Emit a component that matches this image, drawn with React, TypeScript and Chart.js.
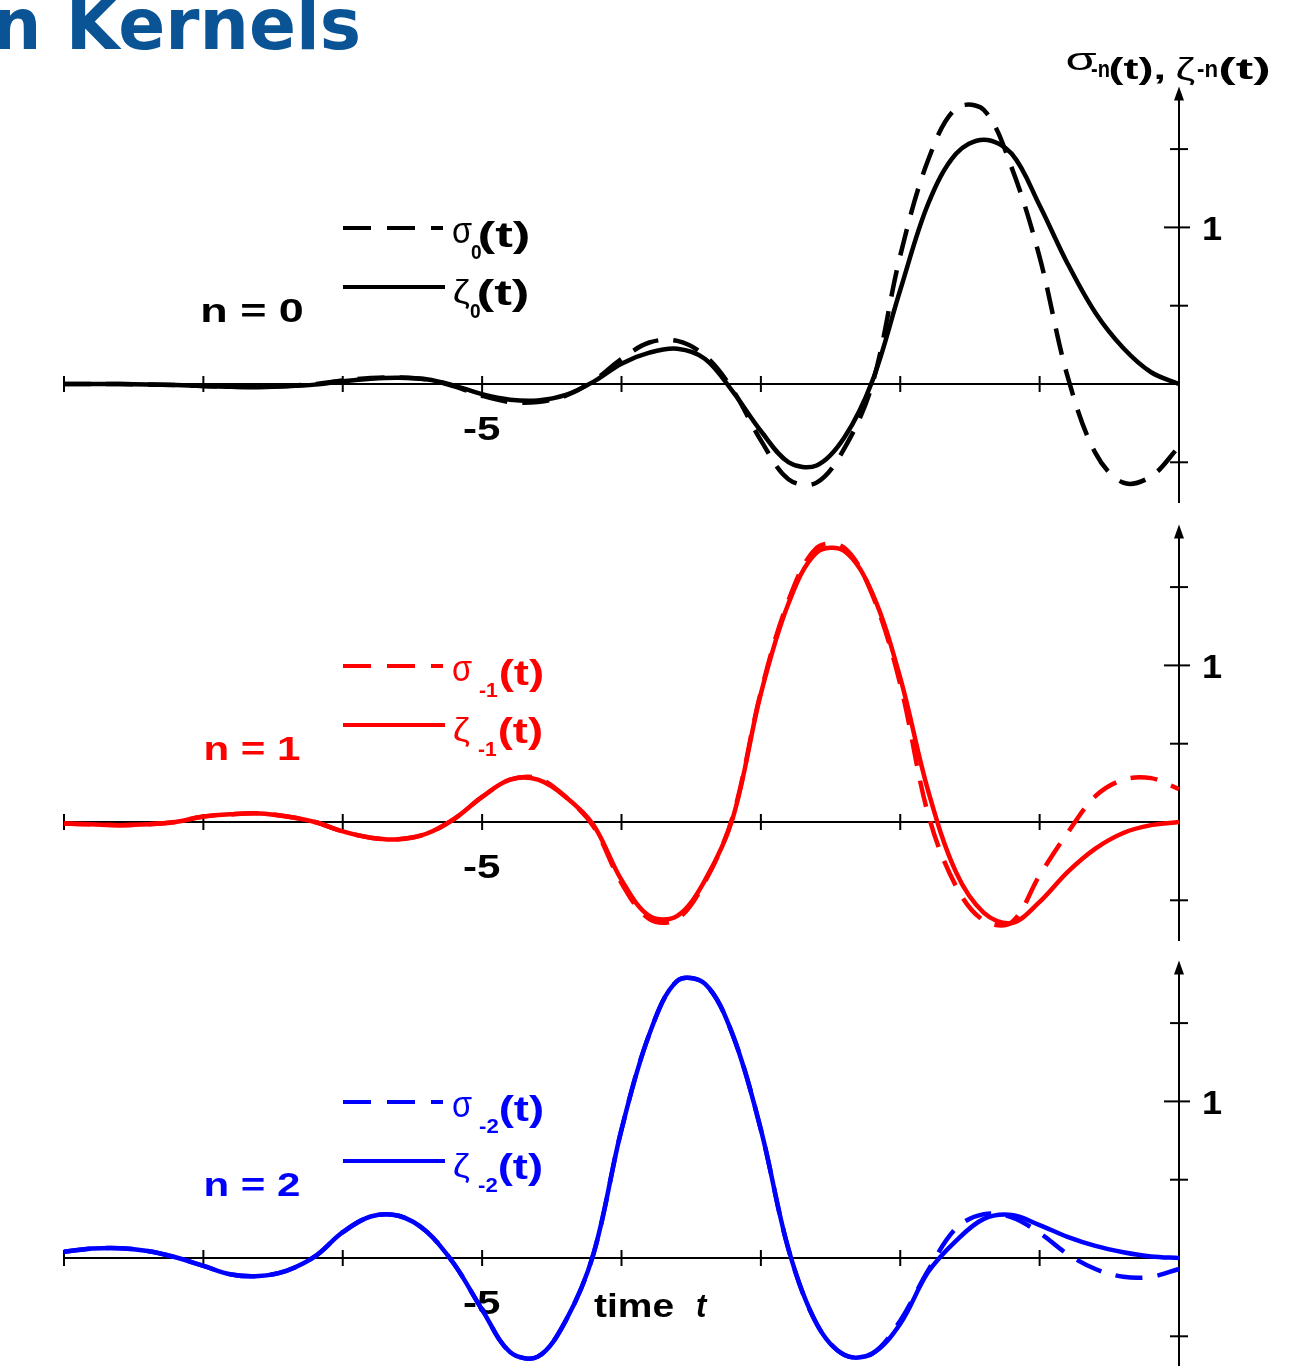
import React, { useEffect, useRef } from "react";
import { Chart, registerables } from "chart.js";

Chart.register(...registerables);

// ---------- data ----------
const T = [-8, -7.8, -7.6, -7.4, -7.2, -7, -6.8, -6.6, -6.4, -6.2, -6, -5.8, -5.6, -5.4, -5.2, -5, -4.8, -4.6, -4.4, -4.2, -4, -3.8, -3.6, -3.4, -3.2, -3, -2.8, -2.6, -2.4, -2.2, -2, -1.8, -1.6, -1.4, -1.2, -1, -0.8, -0.6, -0.4, -0.2, 0];

const sigma0 = [0, 0, 0, -0.003, -0.007, -0.013, -0.018, -0.018, -0.012, 0, 0.022, 0.038, 0.042, 0.03, -0.015, -0.075, -0.115, -0.115, -0.075, 0.02, 0.16, 0.265, 0.275, 0.18, -0.04, -0.36, -0.61, -0.63, -0.41, 0, 0.82, 1.43, 1.76, 1.75, 1.38, 0.81, 0.05, -0.44, -0.63, -0.59, -0.4];
const zeta0 = [0, 0, 0, -0.003, -0.006, -0.012, -0.018, -0.02, -0.015, -0.004, 0.018, 0.034, 0.04, 0.03, -0.01, -0.065, -0.1, -0.105, -0.07, 0.015, 0.13, 0.2, 0.225, 0.16, -0.05, -0.3, -0.5, -0.52, -0.34, 0.02, 0.6, 1.15, 1.47, 1.56, 1.47, 1.14, 0.77, 0.455, 0.23, 0.075, 0];

const sigmaM1 = [-0.01, -0.015, -0.02, -0.015, 0, 0.035, 0.05, 0.055, 0.035, 0, -0.06, -0.1, -0.11, -0.075, 0.02, 0.16, 0.27, 0.28, 0.16, -0.03, -0.39, -0.62, -0.62, -0.38, 0.04, 0.83, 1.42, 1.75, 1.75, 1.45, 0.88, 0.05, -0.41, -0.63, -0.64, -0.34, -0.07, 0.165, 0.27, 0.28, 0.21];
const zetaM1 = [-0.01, -0.015, -0.02, -0.015, 0, 0.035, 0.05, 0.055, 0.035, 0, -0.06, -0.1, -0.11, -0.075, 0.02, 0.16, 0.27, 0.27, 0.16, -0.02, -0.37, -0.6, -0.6, -0.37, 0.03, 0.82, 1.4, 1.72, 1.73, 1.46, 0.92, 0.2, -0.32, -0.58, -0.645, -0.51, -0.32, -0.17, -0.07, -0.02, 0];

const sigmaM2 = [0.04, 0.06, 0.063, 0.045, 0.005, -0.05, -0.105, -0.115, -0.08, 0.01, 0.165, 0.265, 0.27, 0.17, -0.04, -0.33, -0.6, -0.63, -0.4, 0.03, 0.82, 1.43, 1.77, 1.75, 1.42, 0.82, 0.05, -0.42, -0.62, -0.61, -0.4, -0.08, 0.19, 0.28, 0.26, 0.16, 0.025, -0.07, -0.12, -0.12, -0.07];
const zetaM2 = [0.04, 0.06, 0.063, 0.045, 0.005, -0.05, -0.105, -0.115, -0.08, 0.01, 0.165, 0.265, 0.27, 0.17, -0.04, -0.33, -0.6, -0.63, -0.4, 0.03, 0.82, 1.43, 1.77, 1.75, 1.42, 0.82, 0.05, -0.42, -0.62, -0.61, -0.42, -0.09, 0.11, 0.25, 0.275, 0.21, 0.135, 0.077, 0.037, 0.01, 0];

const PANEL_COLORS = ["#000000", "#ff0000", "#0000ff"];
const SUBS = ["0", "-1", "-2"];
const N_LABELS = ["n = 0", "n = 1", "n = 2"];
const X_TICKS = [-8, -7, -6, -5, -4, -3, -2, -1];
const X_LABEL_VALUE = -5;
const Y_TICKS = [-0.5, 0.5, 1, 1.5];
const Y_LABEL_VALUE = 1;
const TITLE = "n Kernels";
const X_TITLE = "time";
const X_TITLE_VAR = "t";

// ---------- layout ----------
const W = 1309;
const H = 1366;
const PX_PER_T = 139.375;
const X0_PX = 64; // pixel of t = -8
const PX_PER_V = 156.6;
const ZERO_PX = [384, 822, 1258];
const X_MIN = -8;
const X_MAX = 0;

const SANS = "'Liberation Sans', Arial, sans-serif";

function fitText(ctx: CanvasRenderingContext2D, text: string, left: number, right: number, baseline: number, font: string, color: string) {
  ctx.save();
  ctx.font = font;
  ctx.textAlign = "left";
  ctx.textBaseline = "alphabetic";
  const m = ctx.measureText(text);
  const inkW = m.actualBoundingBoxLeft + m.actualBoundingBoxRight;
  const sx = inkW > 0 ? (right - left) / inkW : 1;
  ctx.translate(left, baseline);
  ctx.scale(sx, 1);
  ctx.fillStyle = color;
  ctx.fillText(text, m.actualBoundingBoxLeft, 0);
  ctx.restore();
}

function seg(ctx: CanvasRenderingContext2D, x1: number, y1: number, x2: number, y2: number) {
  ctx.beginPath();
  ctx.moveTo(x1, y1);
  ctx.lineTo(x2, y2);
  ctx.stroke();
}

const decorPlugin = {
  id: "decor",
  beforeDatasetsDraw(chart: any) {
    const ctx: CanvasRenderingContext2D = chart.ctx;
    const xs = chart.scales.x;
    const ax = xs.getPixelForValue(0);
    ctx.save();
    // title
    fitText(ctx, TITLE, -3, 358, 49, `bold 71px 'DejaVu Sans', sans-serif`, "#0a5496");
    // y axis title
    fitText(ctx, "\u03c3", 1067, 1097, 70, `32px ${SANS}`, "#000");
    fitText(ctx, "-n", 1091, 1109, 77, `bold 23px ${SANS}`, "#000");
    fitText(ctx, "(t),", 1110, 1164, 79, `bold 30px ${SANS}`, "#000");
    fitText(ctx, "\u03b6", 1177, 1195, 80, `32px ${SANS}`, "#000");
    fitText(ctx, "-n", 1197, 1217, 77, `bold 23px ${SANS}`, "#000");
    fitText(ctx, "(t)", 1220, 1269, 79, `bold 30px ${SANS}`, "#000");

    for (let i = 0; i < 3; i++) {
      const ys = chart.scales["y" + i];
      const z = ys.getPixelForValue(0);
      const col = PANEL_COLORS[i];
      ctx.strokeStyle = "#000";
      ctx.fillStyle = "#000";
      ctx.lineWidth = 2;
      ctx.setLineDash([]);
      // x axis
      seg(ctx, xs.getPixelForValue(X_MIN), z, xs.getPixelForValue(X_MAX), z);
      X_TICKS.forEach((t) => {
        const px = xs.getPixelForValue(t);
        seg(ctx, px, z - 8, px, z + 8);
      });
      // y axis
      const top = ys.getPixelForValue(1.9);
      const bottom = ys.getPixelForValue(i === 2 ? -0.9 : -0.76);
      seg(ctx, ax, bottom, ax, top + 10);
      ctx.beginPath();
      ctx.moveTo(ax, top);
      ctx.lineTo(ax - 5, top + 14);
      ctx.lineTo(ax + 5, top + 14);
      ctx.closePath();
      ctx.fill();
      Y_TICKS.forEach((v) => {
        const py = ys.getPixelForValue(v);
        if (v === Y_LABEL_VALUE) seg(ctx, ax - 15, py, ax + 11, py);
        else seg(ctx, ax - 9, py, ax + 9, py);
      });
      // tick labels
      const y1 = ys.getPixelForValue(Y_LABEL_VALUE);
      fitText(ctx, String(Y_LABEL_VALUE), 1204, 1221, y1 + 13, `bold 34px ${SANS}`, "#000");
      const xl = xs.getPixelForValue(X_LABEL_VALUE);
      fitText(ctx, String(X_LABEL_VALUE), xl - 18, xl + 17, z + 56, `bold 34px ${SANS}`, "#000");

      // legend samples
      ctx.strokeStyle = col;
      ctx.lineWidth = 4;
      ctx.setLineDash([28, 16]);
      seg(ctx, 343, z - 156, 443, z - 156);
      ctx.setLineDash([]);
      seg(ctx, 343, z - 97, 445, z - 97);
      const wide = i > 0;
      const subL = wide ? 479 : 471;
      const subR = wide ? 498 : 481;
      const parL = wide ? 500 : 479;
      const parR = wide ? 542 : 528;
      fitText(ctx, "\u03c3", 453, 472, z - 141, `36px ${SANS}`, col);
      fitText(ctx, SUBS[i], subL, subR, z - 125, `bold 21px ${SANS}`, col);
      fitText(ctx, "(t)", parL, parR, z - 137, `bold 35px ${SANS}`, col);
      fitText(ctx, "\u03b6", 454, 470, z - 81, `34px ${SANS}`, col);
      fitText(ctx, SUBS[i], subL - 1, subR - 1, z - 66, `bold 21px ${SANS}`, col);
      fitText(ctx, "(t)", parL - 1, parR - 1, z - 79, `bold 35px ${SANS}`, col);
      fitText(ctx, N_LABELS[i], i === 0 ? 203 : 206, i === 0 ? 302 : 300, z - 62, `bold 33px ${SANS}`, col);
    }
    // x axis title (bottom panel)
    const z3 = chart.scales.y2.getPixelForValue(0);
    fitText(ctx, X_TITLE, 594, 673, z3 + 59, `bold 34px ${SANS}`, "#000");
    fitText(ctx, X_TITLE_VAR, 697, 708, z3 + 59, `italic bold 34px ${SANS}`, "#000");
    ctx.restore();
  },
};

function makeSet(vals: number[], axis: string, color: string, dashed: boolean) {
  return {
    data: T.map((t, i) => ({ x: t, y: vals[i] })),
    yAxisID: axis,
    borderColor: color,
    backgroundColor: color,
    borderWidth: 4.5,
    borderDash: dashed ? [27, 15] : [],
    borderCapStyle: "butt",
    fill: false,
    pointRadius: 0,
    tension: 0.35,
  };
}

export default function App() {
  const ref = useRef<HTMLCanvasElement | null>(null);
  useEffect(() => {
    document.body.style.margin = "0";
    if (!ref.current) return;
    const scales: any = {
      x: {
        type: "linear",
        display: false,
        min: X_MIN - X0_PX / PX_PER_T,
        max: (W - X0_PX) / PX_PER_T + X_MIN,
      },
    };
    for (let k = 0; k < 3; k++) {
      scales["y" + k] = {
        type: "linear",
        display: false,
        min: -(H - ZERO_PX[k]) / PX_PER_V,
        max: ZERO_PX[k] / PX_PER_V,
      };
    }
    const chart = new Chart(ref.current, {
      type: "line",
      data: {
        datasets: [
          makeSet(sigma0, "y0", PANEL_COLORS[0], true),
          makeSet(zeta0, "y0", PANEL_COLORS[0], false),
          makeSet(sigmaM1, "y1", PANEL_COLORS[1], true),
          makeSet(zetaM1, "y1", PANEL_COLORS[1], false),
          makeSet(sigmaM2, "y2", PANEL_COLORS[2], true),
          makeSet(zetaM2, "y2", PANEL_COLORS[2], false),
        ] as any,
      },
      options: {
        animation: false,
        responsive: false,
        maintainAspectRatio: false,
        events: [],
        layout: { padding: 0 },
        plugins: { legend: { display: false }, tooltip: { enabled: false }, title: { display: false } },
        scales,
      } as any,
      plugins: [decorPlugin as any],
    });
    return () => chart.destroy();
  }, []);
  return (
    <div style={{ width: W, height: H, position: "relative", overflow: "hidden", background: "#fff" }}>
      <canvas ref={ref} width={W} height={H} style={{ display: "block" }} />
    </div>
  );
}
